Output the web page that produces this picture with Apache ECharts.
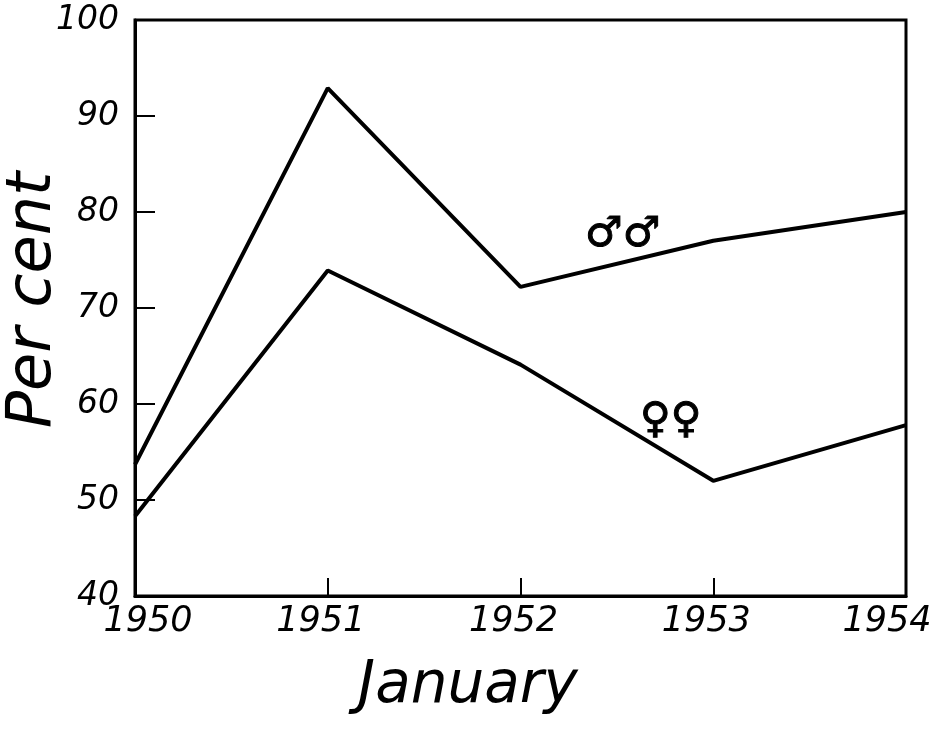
<!DOCTYPE html>
<html>
<head>
<meta charset="utf-8">
<script src="https://cdn.jsdelivr.net/npm/echarts@6/dist/echarts.min.js"></script>
<style>html,body{margin:0;padding:0;background:#fff}#c{width:939px;height:733px}</style>
</head>
<body>
<div id="c"></div>
<script>
const years = [1950, 1951, 1952, 1953, 1954];
const males = [53.7, 92.9, 72.2, 77.0, 80.0];
const females = [48.3, 73.9, 64.1, 52.0, 57.8];
const yTicks = [40, 50, 60, 70, 80, 90, 100];
const maleLabel = '♂♂';
const femaleLabel = '♀♀';
const maleLabelPos = [1952.53, 77.6];
const femaleLabelPos = [1952.78, 58.2];

const font = 'DejaVu Sans';
const chart = echarts.init(document.getElementById('c'));
const pair = (xs, ys) => xs.map((x, i) => [x, ys[i]]);
const mp = (pos, txt) => ({
  symbol: 'circle', symbolSize: 1, itemStyle: {color: 'rgba(0,0,0,0)'},
  data: [{coord: pos, value: txt}],
  label: {show: true, position: 'inside', formatter: txt, fontFamily: font, fontSize: 42, fontWeight: 'bold', color: '#000',
          textBorderColor: '#000', textBorderWidth: 1}
});
const xl = {fontFamily: font, fontStyle: 'italic', fontSize: 35, color: '#000'};
chart.setOption({
  animation: false,
  backgroundColor: '#fff',
  grid: {left: 135, right: 33, top: 20, bottom: 137, show: true, borderColor: '#000', borderWidth: 3,
         containLabel: false, outerBoundsMode: 'none'},
  xAxis: {
    type: 'value', min: years[0], max: years[years.length - 1], interval: 1,
    name: 'January', nameLocation: 'middle', nameGap: 62, nameMoveOverlap: false,
    nameTextStyle: {fontFamily: font, fontStyle: 'italic', fontSize: 58, color: '#000', padding: [0, 105, 0, 0]},
    axisLine: {show: true, lineStyle: {color: '#000', width: 3}},
    axisTick: {show: true, inside: true, length: 18, lineStyle: {color: '#000', width: 2}},
    splitLine: {show: false},
    axisLabel: {margin: 8,
      formatter: v => v === years[0] ? '{f|' + v + '}' : (v === years[years.length - 1] ? '{l|' + v + '}' : '{m|' + v + '}'),
      rich: {
        f: Object.assign({padding: [0, 0, 0, 26]}, xl),
        m: Object.assign({padding: [0, 14, 0, 0]}, xl),
        l: Object.assign({padding: [0, 38, 0, 0]}, xl)
      }}
  },
  yAxis: {
    type: 'value', min: yTicks[0], max: yTicks[yTicks.length - 1], interval: 10,
    name: 'Per cent', nameLocation: 'middle', nameGap: 70, nameRotate: 90, nameMoveOverlap: false,
    nameTextStyle: {fontFamily: font, fontStyle: 'italic', fontSize: 62, color: '#000', padding: [0, 0, 0, 16]},
    axisLine: {show: true, lineStyle: {color: '#000', width: 3}},
    axisTick: {show: true, inside: true, length: 20, lineStyle: {color: '#000', width: 2}},
    splitLine: {show: false},
    axisLabel: {fontFamily: font, fontStyle: 'italic', fontSize: 33, color: '#000', margin: 16}
  },
  series: [
    {
      name: 'males', type: 'line', data: pair(years, males), symbol: 'none',
      lineStyle: {color: '#000', width: 4}, itemStyle: {color: '#000'},
      markPoint: mp(maleLabelPos, maleLabel)
    },
    {
      name: 'females', type: 'line', data: pair(years, females), symbol: 'none',
      lineStyle: {color: '#000', width: 4}, itemStyle: {color: '#000'},
      markPoint: mp(femaleLabelPos, femaleLabel)
    }
  ]
});
</script>
</body>
</html>
